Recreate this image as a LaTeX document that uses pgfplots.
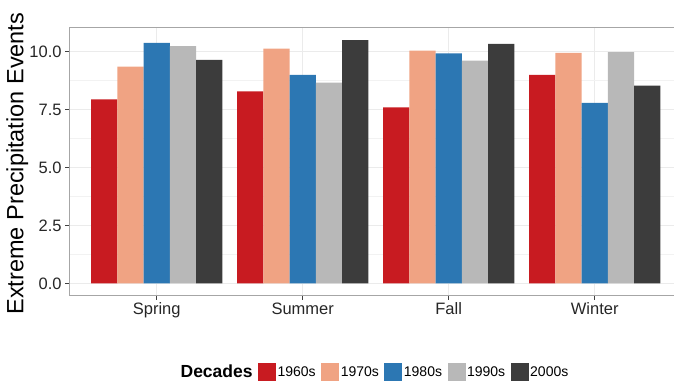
\documentclass[border=0pt]{standalone}
\usepackage{pgfplots}
\pgfplotsset{compat=1.18}
\usepackage{fontspec}
\setmainfont{Liberation Sans}
\definecolor{c60}{RGB}{200,27,33}
\definecolor{c70}{RGB}{240,163,131}
\definecolor{c80}{RGB}{44,119,179}
\definecolor{c90}{RGB}{184,184,184}
\definecolor{c00}{RGB}{60,60,60}
\begin{document}
\begin{tikzpicture}
\begin{axis}[
  at={(69.1pt,85.5pt)}, anchor=south west,
  scale only axis, width=613.2pt, height=267.6pt,
  xmin=0.4, xmax=4.6, ymin=-0.525, ymax=11.025,
  xtick={1,2,3,4}, xticklabels={Spring,Summer,Fall,Winter},
  ytick={0,2.5,5,7.5,10}, yticklabels={0.0,2.5,5.0,7.5,10.0},
  minor ytick={1.25,3.75,6.25,8.75},
  grid=both,
  major grid style={color=black!8, line width=0.9pt},
  minor grid style={color=black!5, line width=0.5pt},
  minor tick length=0pt,
  axis line style={black!35, line width=1pt},
  tick style={black!75, line width=0.9pt},
  major tick length=4pt, tick align=outside, tick pos=left,
  ticklabel style={font=\fontsize{16.5}{16.5}\selectfont, text=black!85},
  ylabel={Extreme Precipitation Events},
  ylabel style={font=\fontsize{23.5}{23.5}\selectfont, at={(axis description cs:-0.0845,0.493)}, anchor=center},
  legend style={at={(axis description cs:0.498,-0.285)}, anchor=center, draw=none, fill=none,
    font=\fontsize{14}{14}\selectfont,
    /tikz/every even column/.append style={column sep=4pt},
    nodes={inner xsep=1.5pt, inner ysep=1pt}},
  legend columns=-1,
  legend image code/.code={\fill[#1] (0pt,-8.5pt) rectangle (18pt,9pt);},
]
\addlegendimage{empty legend}
\addlegendentry{\fontsize{17.5}{17.5}\selectfont\bfseries Decades}
\addplot[ybar, fill=c60, draw=none, bar width=0.18, bar shift=-0.36] coordinates {(1,7.94) (2,8.29) (3,7.60) (4,9.00)};
\addlegendentry{1960s}
\addplot[ybar, fill=c70, draw=none, bar width=0.18, bar shift=-0.18] coordinates {(1,9.35) (2,10.13) (3,10.04) (4,9.95)};
\addlegendentry{1970s}
\addplot[ybar, fill=c80, draw=none, bar width=0.18, bar shift=0] coordinates {(1,10.38) (2,9.00) (3,9.93) (4,7.79)};
\addlegendentry{1980s}
\addplot[ybar, fill=c90, draw=none, bar width=0.18, bar shift=0.18] coordinates {(1,10.24) (2,8.66) (3,9.61) (4,9.98)};
\addlegendentry{1990s}
\addplot[ybar, fill=c00, draw=none, bar width=0.18, bar shift=0.36] coordinates {(1,9.65) (2,10.50) (3,10.34) (4,8.53)};
\addlegendentry{2000s}
\end{axis}
\pgfresetboundingbox
\useasboundingbox (0,0) rectangle (674pt,381pt);
\end{tikzpicture}
\end{document}
